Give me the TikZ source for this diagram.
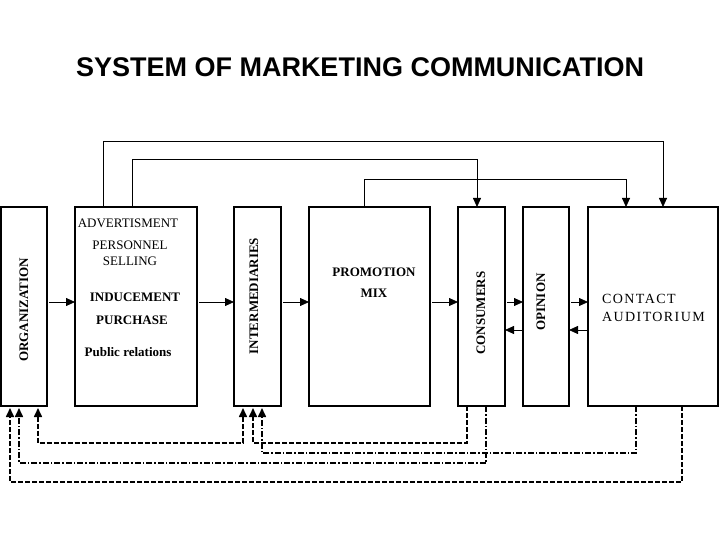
\documentclass[tikz,border=0pt]{standalone}
\usepackage{fontspec}
\setmainfont{Liberation Serif}
\newfontfamily\headfont{Liberation Sans}
\newfontfamily\spacedfont[LetterSpace=10]{Liberation Serif}
\usetikzlibrary{arrows.meta,positioning}
\tikzset{
  >={Triangle[length=9pt,width=8pt]},
  block/.style={rectangle,draw=black,line width=1.5pt,minimum height=199pt,inner sep=0pt,outer sep=0pt},
  tag/.style={font=\fontsize{13}{16}\selectfont,inner sep=0pt,align=center},
  btag/.style={tag,font=\fontsize{13}{16}\selectfont\bfseries},
  vtag/.style={btag,rotate=90},
  arrow/.style={->,line width=0.8pt},
  link/.style={->,line width=0.8pt},
  back/.style={->,line width=1.6pt,dash pattern=on 5pt off 2pt},
  backdot/.style={->,line width=1.6pt,dash pattern=on 6pt off 2pt on 1.5pt off 2pt}
}
\begin{document}
\begin{tikzpicture}[x=1pt,y=-1pt]
\useasboundingbox (0,0) rectangle (720,540);
\node[font=\headfont\bfseries\fontsize{27}{30}\selectfont] (title) at (360,67) {SYSTEM OF MARKETING COMMUNICATION};
% boxes
\node[block,minimum width=46pt] (org) at (24,306.5) {};
\node[block,minimum width=122pt,right=28pt of org] (tools) {};
\node[block,minimum width=47pt,right=37pt of tools] (interm) {};
\node[block,minimum width=121pt,right=28pt of interm] (promo) {};
\node[block,minimum width=47pt,right=28pt of promo] (cons) {};
\node[block,minimum width=46pt,right=18pt of cons] (opin) {};
\node[block,minimum width=130pt,right=19pt of opin] (contact) {};
% texts
\node[vtag] (orgtxt) at (24,310) {ORGANIZATION};
\node[vtag] (intermtxt) at (254,296) {INTERMEDIARIES};
\node[vtag] (constxt) at (481,313) {CONSUMERS};
\node[vtag] (opintxt) at (541,302) {OPINION};
\node[tag] (adv) at (128,223) {ADVERTISMENT};
\node[tag] (pers) at (130,253) {PERSONNEL\\SELLING};
\node[btag] (ind) at (135,297) {INDUCEMENT};
\node[btag] (pur) at (132,320) {PURCHASE};
\node[btag] (pr) at (128,352) {Public relations};
\node[btag] (prom) at (374,272) {PROMOTION};
\node[btag] (mix) at (374,293) {MIX};
\node[tag,font=\spacedfont\fontsize{14}{18}\selectfont,align=left,anchor=west] (cont) at (602,308) {CONTACT\\AUDITORIUM};
% main flow
\coordinate (fwd) at (0,302);
\coordinate (bwd) at (0,330);
\foreach \a/\b in {org/tools,tools/interm,interm/promo,promo/cons,cons/opin,opin/contact}
  \draw[arrow] ([xshift=2pt]\a.east |- fwd) -- (\b.west |- fwd);
\foreach \a/\b in {opin/cons,contact/opin}
  \draw[arrow] (\a.west |- bwd) -- (\b.east |- bwd);
% top links
\draw[link] ([xshift=-33pt]tools.north) -- ++(0,-66) -| ([xshift=10pt]contact.north);
\draw[link] ([xshift=-4pt]tools.north) -- ++(0,-48) -| ([xshift=-4.5pt]cons.north);
\draw[link] ([xshift=-5.5pt]promo.north) -- ++(0,-28) -| ([xshift=-27pt]contact.north);
% feedback
\draw[back,<->] ([xshift=14pt,yshift=-2pt]org.south) -- ++(0,35) -| ([xshift=-14.5pt,yshift=-2pt]interm.south);
\draw[back] ([xshift=-14.5pt]cons.south) -- ++(0,37) -| ([xshift=-4.5pt,yshift=-2pt]interm.south);
\draw[backdot] ([xshift=-17pt]contact.south) -- ++(0,47) -| ([xshift=4.5pt,yshift=-2pt]interm.south);
\draw[backdot] ([xshift=4.5pt]cons.south) -- ++(0,57) -| ([xshift=-5pt,yshift=-2pt]org.south);
\draw[back] ([xshift=29pt]contact.south) -- ++(0,76) -| ([xshift=-14pt,yshift=-2pt]org.south);
\end{tikzpicture}
\end{document}
